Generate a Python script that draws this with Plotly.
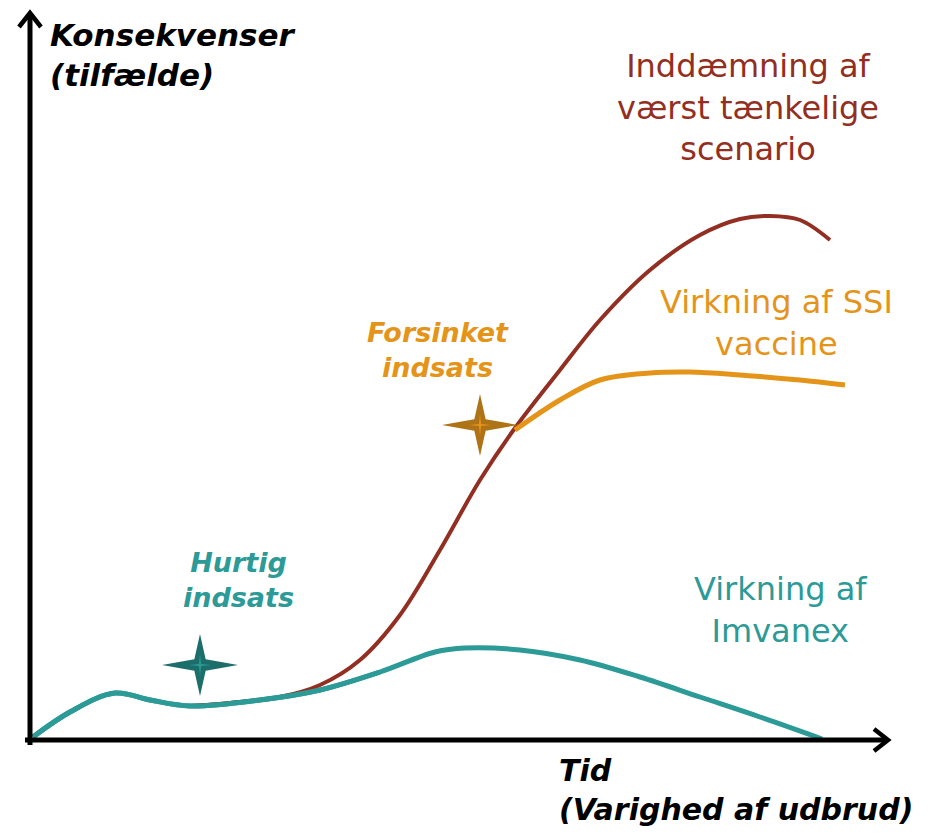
import plotly.graph_objects as go
import numpy as np

# Schematic data (time units from origin, consequence units above baseline)
imvanex_t = [3, 40, 85, 120, 160, 230, 290, 350, 405, 435, 490, 550, 610, 670, 730, 792]
imvanex_y = [3, 28, 47, 40, 34, 40, 50, 68, 88, 92, 90, 80, 63, 43, 23, 1]

worst_t = [160, 200, 250, 290, 330, 370, 410, 450, 485, 530, 570, 620, 670, 710, 740, 770, 800]
worst_y = [34, 37, 43, 55, 80, 125, 190, 260, 312, 370, 420, 470, 505, 521, 524, 520, 500]

ssi_t = [485, 530, 570, 620, 660, 710, 770, 815]
ssi_y = [310, 340, 360, 367, 368, 365, 360, 355]

star_t = [170, 450]
star_y = [75, 315]

RED = "#922F22"
ORANGE = "#E5941A"
TEAL = "#2C9A97"
TEAL_DARK = "#1C6E6A"
ORANGE_DARK = "#AE7217"

fig = go.Figure()

fig.add_trace(go.Scatter(x=imvanex_t, y=imvanex_y, mode="lines",
                         line=dict(color=TEAL, width=5, shape="spline", smoothing=1.0),
                         hoverinfo="skip"))
fig.add_trace(go.Scatter(x=worst_t, y=worst_y, mode="lines",
                         line=dict(color=RED, width=4, shape="spline", smoothing=1.0),
                         hoverinfo="skip"))
fig.add_trace(go.Scatter(x=ssi_t, y=ssi_y, mode="lines",
                         line=dict(color=ORANGE, width=5, shape="spline", smoothing=1.0),
                         hoverinfo="skip"))
# redraw teal on top of red at the start
fig.add_trace(go.Scatter(x=imvanex_t[:8], y=imvanex_y[:8], mode="lines",
                         line=dict(color=TEAL, width=5, shape="spline", smoothing=1.0),
                         hoverinfo="skip"))


def star(cx, cy, rx, ry, inner):
    xs, ys = [], []
    for k in range(8):
        ang = k * np.pi / 4
        if k % 2 == 0:
            xs.append(cx + rx * np.cos(ang))
            ys.append(cy + ry * np.sin(ang))
        else:
            xs.append(cx + inner * np.cos(ang))
            ys.append(cy + inner * np.sin(ang))
    xs.append(xs[0]); ys.append(ys[0])
    return xs, ys


for (cx, cy), dark, light in zip(zip(star_t, star_y), [TEAL_DARK, ORANGE_DARK], [TEAL, ORANGE]):
    sx, sy = star(cx, cy, 38, 31, 8)
    fig.add_trace(go.Scatter(x=sx, y=sy, mode="lines", fill="toself", fillcolor=dark,
                             line=dict(color=dark, width=0), hoverinfo="skip"))
    sx, sy = star(cx, cy, 11, 11, 1.5)
    fig.add_trace(go.Scatter(x=sx, y=sy, mode="lines", fill="toself", fillcolor=light,
                             line=dict(color=light, width=0), hoverinfo="skip"))

FONT = "DejaVu Sans"
shapes = [
    dict(type="line", x0=0, y0=-5, x1=0, y1=725, line=dict(color="black", width=5)),
    dict(type="line", x0=-5, y0=0, x1=855, y1=0, line=dict(color="black", width=5)),
    dict(type="path", path="M -11,713 L 0,727 L 11,713", line=dict(color="black", width=4.5)),
    dict(type="path", path="M 844,11 L 858,0 L 844,-11", line=dict(color="black", width=4.5)),
]

annotations = [
    dict(x=28, y=655, text="<b><i>Konsekvenser<br>(tilfælde)</i></b>", xanchor="left", yanchor="middle",
         align="left", font=dict(size=31, color="black", family=FONT)),
    dict(x=537, y=-80, text="<b><i>Tid<br>(Varighed af udbrud)</i></b>", xanchor="left", yanchor="middle",
         align="left", font=dict(size=30, color="black", family=FONT)),
    dict(x=728, y=603, text="Inddæmning af<br>værst tænkelige<br>scenario", xanchor="center", yanchor="middle",
         align="center", font=dict(size=32, color=RED, family=FONT)),
    dict(x=756, y=387, text="Virkning af SSI<br>vaccine", xanchor="center", yanchor="middle",
         align="center", font=dict(size=32, color=ORANGE, family=FONT)),
    dict(x=418, y=360, text="<b><i>Forsinket<br>indsats</i></b>", xanchor="center", yanchor="middle",
         align="center", font=dict(size=27, color=ORANGE, family=FONT)),
    dict(x=218, y=130, text="<b><i>Hurtig<br>indsats</i></b>", xanchor="center", yanchor="middle",
         align="center", font=dict(size=27, color=TEAL, family=FONT)),
    dict(x=760, y=100, text="Virkning af<br>Imvanex", xanchor="center", yanchor="middle",
         align="center", font=dict(size=32, color=TEAL, family=FONT)),
]

fig.update_layout(
    width=918, height=819,
    margin=dict(l=0, r=0, t=0, b=0),
    paper_bgcolor="white", plot_bgcolor="white",
    showlegend=False,
    xaxis=dict(range=[-22, 896], visible=False, fixedrange=True),
    yaxis=dict(range=[-87, 732], visible=False, fixedrange=True),
    shapes=shapes,
    annotations=annotations,
)

fig.write_html("out.html")
